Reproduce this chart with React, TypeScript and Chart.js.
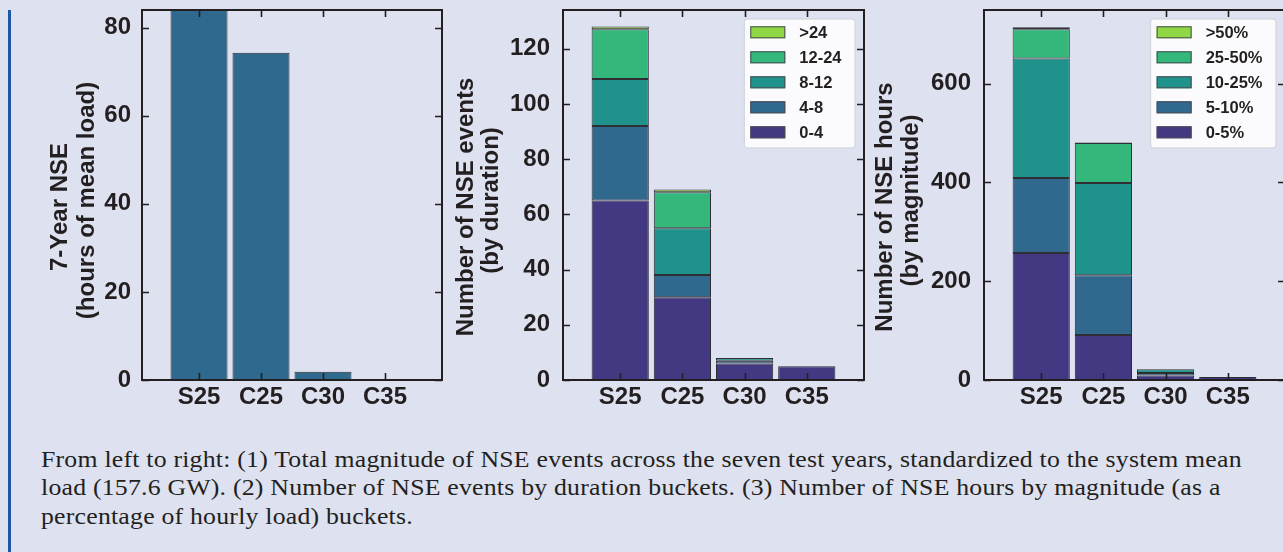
import React, { useEffect, useRef } from 'react';
import { Chart, registerables } from 'chart.js';

Chart.register(...registerables);

// ---------- data ----------
const CATEGORIES = ['S25', 'C25', 'C30', 'C35'];

// Panel 1: 7-year NSE (hours of mean load)
const NSE_TOTAL = [84, 74.3, 1.9, 0.2];

// Panel 2: number of NSE events by duration (hours)
const DURATION_LABELS = ['0-4', '4-8', '8-12', '12-24', '>24'];
const DUR_0_4 = [65, 30, 6, 5];
const DUR_4_8 = [27, 8, 1, 0];
const DUR_8_12 = [17, 17, 1, 0];
const DUR_12_24 = [18, 13, 0, 0];
const DUR_OVER_24 = [1, 1, 0, 0];

// Panel 3: number of NSE hours by magnitude (% of hourly load)
const MAGNITUDE_LABELS = ['0-5%', '5-10%', '10-25%', '25-50%', '>50%'];
const MAG_0_5 = [257, 91, 9, 6];
const MAG_5_10 = [152, 121, 5, 0];
const MAG_10_25 = [242, 187, 8, 0];
const MAG_25_50 = [59, 81, 0, 0];
const MAG_OVER_50 = [4, 1, 0, 0];

const Y1_TICKS = [0, 20, 40, 60, 80];
const Y2_TICKS = [0, 20, 40, 60, 80, 100, 120];
const Y3_TICKS = [0, 200, 400, 600];

const Y1_TITLE = ['7-Year NSE', '(hours of mean load)'];
const Y2_TITLE = ['Number of NSE events', '(by duration)'];
const Y3_TITLE = ['Number of NSE hours', '(by magnitude)'];

const CAPTION_LINES = [
  'From left to right: (1) Total magnitude of NSE events across the seven test years, standardized to the system mean',
  'load (157.6 GW). (2) Number of NSE events by duration buckets. (3) Number of NSE hours by magnitude (as a',
  'percentage of hourly load) buckets.',
];

// ---------- styles ----------
const BG = '#dee1ef';
const INK = '#231f20';
const EDGE = '#2e2e34';
const BUCKET_COLORS = ['#433983', '#30688e', '#1f938b', '#33b77a', '#8fd744'];
const SINGLE_COLOR = '#2f698e';
const SANS = '"Liberation Sans", Arial, Helvetica, sans-serif';

type Series = { label: string; values: number[]; color: string };

type PanelSpec = {
  left: number;
  width: number;
  yAxisWidth: number;
  padRight: number;
  yMax: number;
  yTicks: number[];
  titleLines: string[];
  titleBaselines: number[]; // page x of each title line's baseline
  titleCenters: number[]; // page y of each title line's centre
  tickPad: number;
  series: Series[];
  legend: boolean;
};

const frameAndLegend = {
  id: 'frameAndLegend',
  afterDraw(chart: any, _args: any, opts: any) {
    const { ctx, chartArea: a, scales } = chart;
    const xs = scales.x;
    const ys = scales.y;
    ctx.save();
    // frame
    ctx.strokeStyle = INK;
    ctx.lineWidth = 2;
    ctx.strokeRect(a.left, a.top, a.right - a.left, a.bottom - a.top);
    // inward ticks on all four sides
    ctx.lineWidth = 1.6;
    ctx.beginPath();
    xs.ticks.forEach((t: any) => {
      const px = Math.round(xs.getPixelForValue(t.value)) + 0.5;
      ctx.moveTo(px, a.bottom);
      ctx.lineTo(px, a.bottom - 7);
      ctx.moveTo(px, a.top);
      ctx.lineTo(px, a.top + 7);
    });
    ys.ticks.forEach((t: any) => {
      const py = Math.round(ys.getPixelForValue(t.value)) + 0.5;
      ctx.moveTo(a.left, py);
      ctx.lineTo(a.left + 7, py);
      ctx.moveTo(a.right, py);
      ctx.lineTo(a.right - 7, py);
    });
    ctx.stroke();

    // rotated y-axis title (two lines)
    if (opts && opts.title) {
      ctx.font = `bold 24px ${SANS}`;
      ctx.fillStyle = INK;
      ctx.textAlign = 'center';
      ctx.textBaseline = 'alphabetic';
      opts.title.lines.forEach((text: string, i: number) => {
        ctx.save();
        ctx.translate(opts.title.baselines[i] - opts.title.offsetX, opts.title.centers[i]);
        ctx.rotate(-Math.PI / 2);
        ctx.fillText(text, 0, 0);
        ctx.restore();
      });
    }

    if (opts && opts.show) {
      const items = chart.data.datasets.map((d: any) => ({ label: d.label, color: d.backgroundColor })).reverse();
      ctx.font = `bold 16.5px ${SANS}`;
      const tw = Math.max(...items.map((d: any) => ctx.measureText(d.label).width));
      const bw = 6 + 35 + 14 + tw + 13.5;
      const bh = 129;
      const bx = a.right - 9 - bw;
      const by = a.top + 9;
      ctx.beginPath();
      ctx.roundRect(bx, by, bw, bh, 3);
      ctx.fillStyle = 'rgba(255,255,255,0.86)';
      ctx.fill();
      ctx.strokeStyle = '#cfd0d6';
      ctx.lineWidth = 1;
      ctx.stroke();
      items.forEach((d: any, i: number) => {
        const cy = by + 13.3 + i * 25;
        ctx.fillStyle = d.color;
        ctx.fillRect(bx + 6, cy - 6, 35, 12);
        ctx.strokeStyle = '#4a4a50';
        ctx.lineWidth = 1;
        ctx.strokeRect(bx + 6.5, cy - 5.5, 34, 11);
        ctx.fillStyle = INK;
        ctx.textBaseline = 'middle';
        ctx.textAlign = 'left';
        ctx.fillText(d.label, bx + 55, cy + 1);
      });
    }
    ctx.restore();
  },
};

function Panel({ spec }: { spec: PanelSpec }) {
  const ref = useRef<HTMLCanvasElement | null>(null);
  useEffect(() => {
    if (!ref.current) return;
    const tickFont = { family: SANS, size: 24, weight: 'bold' as const };
    const chart = new Chart(ref.current, {
      type: 'bar',
      data: {
        datasets: spec.series.map((s) => ({
          label: s.label,
          data: s.values.map((v, i) => ({ x: i, y: v })),
          backgroundColor: s.color,
          borderColor: EDGE,
          borderWidth: 1,
          borderSkipped: false,
          barPercentage: 0.92,
          categoryPercentage: 1,
        })),
      },
      options: {
        animation: false,
        responsive: false,
        maintainAspectRatio: false,
        devicePixelRatio: 1,
        layout: { padding: { top: 10, right: spec.padRight, left: 0, bottom: 0 } },
        plugins: {
          legend: { display: false },
          tooltip: { enabled: false },
          frameAndLegend: {
            show: spec.legend,
            title: {
              lines: spec.titleLines,
              baselines: spec.titleBaselines,
              centers: spec.titleCenters,
              offsetX: spec.left,
            },
          },
        } as any,
        scales: {
          x: {
            type: 'linear',
            stacked: true,
            offset: false,
            min: -0.92,
            max: 3.92,
            grid: { display: false, drawTicks: false, offset: false },
            border: { display: false },
            afterBuildTicks: (s: any) => {
              s.ticks = CATEGORIES.map((_, i) => ({ value: i }));
            },
            ticks: {
              callback: (v: any) => CATEGORIES[v] ?? '',
              font: tickFont,
              color: INK,
              padding: 3,
              autoSkip: false,
              maxRotation: 0,
            },
            afterFit: (s: any) => {
              s.height = 40;
              s.paddingLeft = 0;
              s.paddingRight = 0;
            },
          },
          y: {
            type: 'linear',
            stacked: true,
            min: 0,
            max: spec.yMax,
            grid: { display: false, drawTicks: false },
            border: { display: false },
            afterBuildTicks: (s: any) => {
              s.ticks = spec.yTicks.map((v) => ({ value: v }));
            },
            ticks: { font: tickFont, color: INK, padding: spec.tickPad },
            afterFit: (s: any) => {
              s.width = spec.yAxisWidth;
              s.paddingTop = 0;
              s.paddingBottom = 0;
            },
          },
        } as any,
      },
      plugins: [frameAndLegend],
    });
    return () => chart.destroy();
  }, [spec]);
  return (
    <canvas
      ref={ref}
      width={spec.width}
      height={420}
      style={{ position: 'absolute', left: spec.left, top: 0, width: spec.width, height: 420 }}
    />
  );
}

const PANELS: PanelSpec[] = [
  {
    left: 30,
    width: 420,
    yAxisWidth: 112,
    padRight: 8,
    yMax: 84,
    yTicks: Y1_TICKS,
    titleLines: Y1_TITLE,
    titleBaselines: [66.5, 93.5],
    titleCenters: [207, 200.5],
    tickPad: 11,
    series: [{ label: '7-Year NSE', values: NSE_TOTAL, color: SINGLE_COLOR }],
    legend: false,
  },
  {
    left: 450,
    width: 420,
    yAxisWidth: 113,
    padRight: 6,
    yMax: 134,
    yTicks: Y2_TICKS,
    titleLines: Y2_TITLE,
    titleBaselines: [472.5, 497.5],
    titleCenters: [207, 200.5],
    tickPad: 13,
    series: DURATION_LABELS.map((label, i) => ({
      label,
      values: [DUR_0_4, DUR_4_8, DUR_8_12, DUR_12_24, DUR_OVER_24][i],
      color: BUCKET_COLORS[i],
    })),
    legend: true,
  },
  {
    left: 870,
    width: 420,
    yAxisWidth: 114,
    padRight: 5,
    yMax: 749,
    yTicks: Y3_TICKS,
    titleLines: Y3_TITLE,
    titleBaselines: [892, 918],
    titleCenters: [207, 200.5],
    tickPad: 13,
    series: MAGNITUDE_LABELS.map((label, i) => ({
      label,
      values: [MAG_0_5, MAG_5_10, MAG_10_25, MAG_25_50, MAG_OVER_50][i],
      color: BUCKET_COLORS[i],
    })),
    legend: true,
  },
];

export default function App() {
  return (
    <div
      style={{
        position: 'absolute',
        left: 0,
        top: 0,
        width: 1283,
        height: 552,
        overflow: 'hidden',
        background: BG,
      }}
    >
      <div style={{ position: 'absolute', left: 8, top: 10, width: 3, height: 542, background: '#1a57a3' }} />
      {PANELS.map((p, i) => (
        <Panel key={i} spec={p} />
      ))}
      <div
        style={{
          position: 'absolute',
          left: 41,
          top: 446,
          whiteSpace: 'nowrap',
          fontFamily: '"Liberation Serif", "Times New Roman", serif',
          fontSize: 23,
          lineHeight: '28.4px',
          letterSpacing: '0.2px',
          color: INK,
          transform: 'scaleX(1.12)',
          transformOrigin: '0 0',
        }}
      >
        {CAPTION_LINES.map((l, i) => (
          <div key={i}>{l}</div>
        ))}
      </div>
    </div>
  );
}
